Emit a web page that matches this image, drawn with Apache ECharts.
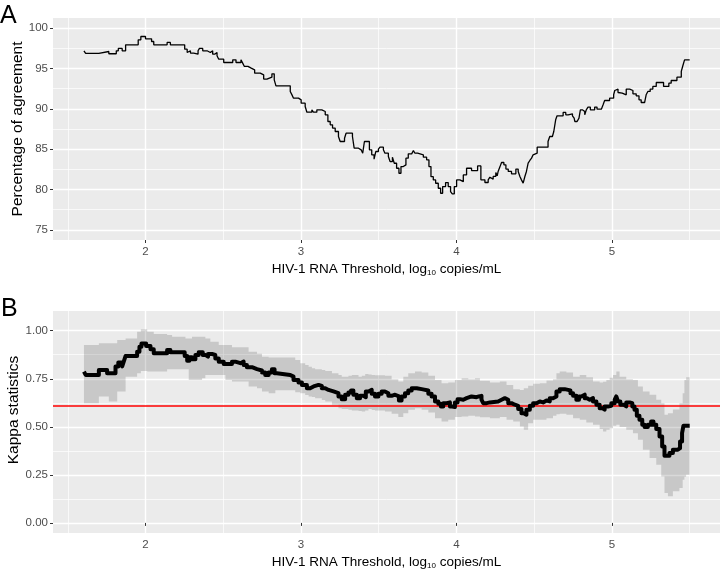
<!DOCTYPE html>
<html>
<head>
<meta charset="utf-8">
<script src="https://cdn.jsdelivr.net/npm/echarts@6/dist/echarts.min.js"></script>
<style>
  html, body { margin: 0; padding: 0; background: #fff; }
  #chart { width: 720px; height: 576px; }
</style>
</head>
<body>
<div id="chart"></div>
<script>
// panel A: percentage of agreement (step line)
var agreeX = [
  1.604, 1.615, 1.700, 1.764, 1.812, 1.825, 1.850, 1.872, 1.953, 1.970,
  2.000, 2.039, 2.053, 2.139, 2.160, 2.252, 2.268, 2.278, 2.289, 2.310,
  2.321, 2.338, 2.347, 2.368, 2.396, 2.417, 2.432, 2.445, 2.460, 2.471,
  2.503, 2.561, 2.582, 2.614, 2.625, 2.636, 2.659, 2.680, 2.702, 2.738,
  2.760, 2.781, 2.813, 2.828, 2.839, 2.931, 2.942, 2.952, 2.984, 3.001,
  3.027, 3.038, 3.070, 3.080, 3.102, 3.134, 3.156, 3.173, 3.188, 3.203,
  3.220, 3.241, 3.252, 3.280, 3.290, 3.331, 3.342, 3.370, 3.387, 3.397,
  3.408, 3.440, 3.455, 3.470, 3.481, 3.498, 3.508, 3.530, 3.540, 3.562,
  3.573, 3.588, 3.600, 3.615, 3.630, 3.643, 3.658, 3.675, 3.690, 3.712,
  3.723, 3.733, 3.750, 3.787, 3.808, 3.823, 3.836, 3.851, 3.866, 3.883,
  3.898, 3.911, 3.930, 3.947, 3.962, 3.973, 3.986, 4.001, 4.022, 4.044,
  4.065, 4.097, 4.136, 4.157, 4.183, 4.204, 4.215, 4.226, 4.236, 4.253,
  4.262, 4.268, 4.279, 4.290, 4.305, 4.318, 4.333, 4.354, 4.382, 4.397,
  4.408, 4.418, 4.429, 4.440, 4.450, 4.461, 4.472, 4.483, 4.493, 4.504,
  4.519, 4.589, 4.600, 4.617, 4.626, 4.638, 4.647, 4.686, 4.703, 4.718,
  4.729, 4.746, 4.757, 4.761, 4.776, 4.788, 4.797, 4.810, 4.825, 4.835,
  4.846, 4.861, 4.889, 4.904, 4.932, 4.943, 4.953, 4.985, 5.011, 5.018,
  5.028, 5.039, 5.049, 5.066, 5.092, 5.114, 5.135, 5.156, 5.174, 5.188,
  5.210, 5.220, 5.231, 5.246, 5.263, 5.285, 5.332, 5.366, 5.381, 5.418,
  5.446, 5.456, 5.467, 5.500
]
var agreement = [
  97.19, 96.86, 97.10, 96.82, 97.19, 97.48, 97.19, 97.93, 98.55, 98.96,
  98.67, 98.34, 97.93, 98.22, 97.93, 97.39, 96.98, 97.19, 96.90, 96.98,
  96.77, 97.19, 97.48, 97.19, 96.98, 97.19, 96.77, 96.98, 96.57, 96.15,
  95.74, 96.07, 95.74, 96.07, 95.66, 95.25, 95.04, 94.83, 94.42, 94.21,
  93.68, 93.92, 94.34, 93.59, 92.85, 92.15, 91.73, 91.32, 91.11, 90.70,
  90.28, 89.58, 89.87, 89.58, 89.87, 89.67, 89.26, 88.43, 88.02, 87.61,
  87.19, 86.57, 85.95, 86.36, 86.98, 86.57, 85.12, 84.92, 85.12, 84.50,
  85.95, 84.92, 84.30, 83.76, 84.71, 85.00, 85.25, 84.92, 84.50, 84.09,
  83.47, 84.01, 83.26, 82.64, 82.02, 82.85, 83.05, 83.88, 84.42, 84.58,
  84.83, 84.50, 84.30, 84.01, 83.68, 82.85, 81.60, 81.19, 80.78, 80.16,
  79.54, 80.37, 80.86, 80.37, 79.75, 79.46, 80.37, 81.19, 80.98, 81.81,
  82.64, 82.35, 82.93, 81.20, 80.87, 81.20, 81.53, 81.29, 81.62, 82.11,
  81.70, 82.24, 82.78, 83.35, 83.06, 82.53, 82.24, 81.95, 82.53, 82.24,
  81.62, 81.20, 80.79, 81.62, 82.24, 83.27, 83.60, 83.89, 84.30, 84.51,
  85.25, 85.95, 86.57, 86.78, 87.19, 88.64, 89.13, 89.55, 89.26, 89.46,
  89.38, 89.13, 88.84, 88.43, 88.55, 88.84, 89.88, 89.67, 89.26, 89.88,
  90.21, 89.88, 90.21, 89.96, 89.88, 90.50, 91.03, 91.32, 91.74, 92.27,
  92.44, 92.02, 91.94, 91.74, 92.44, 92.27, 91.86, 91.61, 91.12, 90.78,
  90.70, 91.74, 92.15, 92.44, 92.77, 93.26, 92.77, 93.18, 93.51, 93.92,
  94.63, 95.33, 96.07, 96.07
]

// panel B: kappa statistic (step line) with its confidence band
var kappaX = [
  1.604, 1.615, 1.700, 1.753, 1.807, 1.825, 1.850, 1.860, 1.872, 1.946,
  1.961, 1.974, 2.004, 2.032, 2.053, 2.139, 2.160, 2.252, 2.268, 2.282,
  2.299, 2.321, 2.342, 2.368, 2.385, 2.402, 2.428, 2.449, 2.471, 2.503,
  2.556, 2.578, 2.610, 2.631, 2.652, 2.685, 2.717, 2.749, 2.770, 2.792,
  2.813, 2.830, 2.845, 2.931, 2.952, 2.984, 3.006, 3.038, 3.059, 3.081,
  3.113, 3.134, 3.156, 3.177, 3.209, 3.241, 3.262, 3.284, 3.305, 3.322,
  3.337, 3.359, 3.380, 3.402, 3.417, 3.434, 3.455, 3.476, 3.498, 3.519,
  3.540, 3.562, 3.583, 3.605, 3.630, 3.647, 3.669, 3.690, 3.712, 3.744,
  3.776, 3.819, 3.840, 3.862, 3.883, 3.900, 3.915, 3.937, 3.958, 3.973,
  3.990, 4.007, 4.022, 4.044, 4.065, 4.097, 4.129, 4.144, 4.161, 4.172,
  4.194, 4.215, 4.268, 4.290, 4.311, 4.333, 4.354, 4.376, 4.397, 4.418,
  4.433, 4.450, 4.472, 4.493, 4.515, 4.536, 4.557, 4.579, 4.600, 4.621,
  4.643, 4.664, 4.696, 4.718, 4.733, 4.750, 4.771, 4.788, 4.803, 4.825,
  4.840, 4.857, 4.878, 4.900, 4.921, 4.938, 4.953, 4.975, 4.996, 5.018,
  5.028, 5.039, 5.054, 5.075, 5.092, 5.114, 5.131, 5.145, 5.160, 5.177,
  5.195, 5.210, 5.231, 5.252, 5.267, 5.285, 5.306, 5.323, 5.338, 5.370,
  5.392, 5.424, 5.438, 5.451, 5.460, 5.500
]
var kappa = [
  0.787, 0.770, 0.796, 0.779, 0.814, 0.834, 0.814, 0.839, 0.869, 0.891,
  0.917, 0.934, 0.921, 0.903, 0.883, 0.900, 0.888, 0.869, 0.844, 0.862,
  0.851, 0.874, 0.888, 0.874, 0.865, 0.879, 0.874, 0.856, 0.839, 0.827,
  0.839, 0.831, 0.839, 0.822, 0.810, 0.800, 0.793, 0.782, 0.770, 0.782,
  0.800, 0.779, 0.770, 0.761, 0.744, 0.730, 0.718, 0.701, 0.710, 0.718,
  0.713, 0.701, 0.692, 0.684, 0.675, 0.658, 0.644, 0.667, 0.678, 0.689,
  0.667, 0.649, 0.661, 0.654, 0.684, 0.692, 0.672, 0.658, 0.672, 0.684,
  0.675, 0.661, 0.667, 0.658, 0.637, 0.658, 0.675, 0.689, 0.701, 0.696,
  0.689, 0.672, 0.658, 0.632, 0.620, 0.606, 0.623, 0.627, 0.606, 0.603,
  0.627, 0.644, 0.641, 0.649, 0.658, 0.654, 0.658, 0.661, 0.641, 0.623,
  0.627, 0.632, 0.641, 0.649, 0.641, 0.623, 0.615, 0.609, 0.592, 0.571,
  0.563, 0.589, 0.609, 0.623, 0.632, 0.627, 0.637, 0.632, 0.649, 0.658,
  0.684, 0.696, 0.692, 0.689, 0.675, 0.661, 0.641, 0.658, 0.667, 0.649,
  0.641, 0.649, 0.632, 0.615, 0.597, 0.589, 0.606, 0.609, 0.623, 0.641,
  0.658, 0.632, 0.615, 0.606, 0.627, 0.623, 0.606, 0.589, 0.558, 0.537,
  0.511, 0.499, 0.511, 0.528, 0.511, 0.488, 0.450, 0.398, 0.350, 0.364,
  0.381, 0.389, 0.424, 0.467, 0.506, 0.506
]
var bandX = [
  1.604, 1.700, 1.764, 1.818, 1.872, 1.946, 1.970, 2.011, 2.053, 2.139,
  2.171, 2.257, 2.278, 2.299, 2.364, 2.385, 2.417, 2.471, 2.514, 2.556,
  2.663, 2.717, 2.749, 2.792, 2.835, 2.899, 2.963, 2.995, 3.027, 3.049,
  3.070, 3.091, 3.134, 3.156, 3.199, 3.241, 3.262, 3.305, 3.327, 3.370,
  3.391, 3.413, 3.434, 3.455, 3.476, 3.540, 3.583, 3.626, 3.658, 3.690,
  3.733, 3.776, 3.819, 3.862, 3.904, 3.947, 3.990, 4.033, 4.076, 4.119,
  4.151, 4.215, 4.279, 4.322, 4.365, 4.408, 4.433, 4.461, 4.493, 4.536,
  4.579, 4.621, 4.643, 4.664, 4.707, 4.750, 4.793, 4.835, 4.878, 4.921,
  4.943, 4.964, 4.985, 5.007, 5.028, 5.049, 5.092, 5.135, 5.167, 5.199,
  5.242, 5.285, 5.317, 5.338, 5.360, 5.392, 5.434, 5.455, 5.466, 5.477,
  5.500
]
var bandLo = [
  0.623, 0.658, 0.632, 0.684, 0.760, 0.779, 0.790, 0.788, 0.788, 0.800,
  0.800, 0.800, 0.744, 0.744, 0.753, 0.770, 0.770, 0.770, 0.744, 0.736,
  0.710, 0.701, 0.684, 0.675, 0.690, 0.690, 0.680, 0.675, 0.665, 0.658,
  0.655, 0.649, 0.640, 0.632, 0.615, 0.597, 0.593, 0.589, 0.585, 0.582,
  0.580, 0.585, 0.592, 0.588, 0.585, 0.580, 0.568, 0.551, 0.571, 0.589,
  0.597, 0.589, 0.575, 0.545, 0.528, 0.537, 0.551, 0.554, 0.558, 0.554,
  0.550, 0.545, 0.551, 0.537, 0.528, 0.502, 0.485, 0.519, 0.537, 0.537,
  0.545, 0.558, 0.565, 0.568, 0.563, 0.545, 0.537, 0.523, 0.511, 0.488,
  0.476, 0.485, 0.493, 0.505, 0.511, 0.499, 0.485, 0.467, 0.433, 0.381,
  0.338, 0.303, 0.242, 0.156, 0.139, 0.165, 0.182, 0.225, 0.240, 0.251,
  0.251
]
var bandHi = [
  0.926, 0.935, 0.935, 0.952, 0.960, 0.995, 1.007, 0.995, 0.983, 0.978,
  0.969, 0.960, 0.960, 0.969, 0.969, 0.960, 0.943, 0.926, 0.926, 0.914,
  0.891, 0.880, 0.865, 0.860, 0.860, 0.860, 0.848, 0.831, 0.822, 0.813,
  0.805, 0.800, 0.796, 0.790, 0.779, 0.770, 0.761, 0.765, 0.770, 0.761,
  0.765, 0.775, 0.772, 0.770, 0.768, 0.765, 0.747, 0.736, 0.761, 0.779,
  0.788, 0.782, 0.765, 0.744, 0.727, 0.730, 0.744, 0.753, 0.747, 0.753,
  0.740, 0.730, 0.736, 0.718, 0.696, 0.692, 0.700, 0.713, 0.724, 0.727,
  0.741, 0.747, 0.779, 0.788, 0.782, 0.761, 0.770, 0.758, 0.736, 0.730,
  0.735, 0.744, 0.755, 0.770, 0.788, 0.761, 0.747, 0.744, 0.710, 0.684,
  0.667, 0.641, 0.623, 0.563, 0.570, 0.590, 0.623, 0.675, 0.744, 0.758,
  0.758
]
var kappaRef = 0.61

// tick values
var xTicks = [2, 3, 4, 5]
var xMinor = [1.5, 2.5, 3.5, 4.5, 5.5]
var agreeTicks = [75, 80, 85, 90, 95, 100]
var agreeMinor = [77.5, 82.5, 87.5, 92.5, 97.5]
var kappaTicks = [0, 0.25, 0.5, 0.75, 1]
var kappaMinor = [0.125, 0.375, 0.625, 0.875]

var FONT = "'Liberation Sans', Arial, Helvetica, sans-serif"
var xTitle = 'HIV-1 RNA Threshold, log{sub|10} copies/mL'

function zip(xs, ys) {
  var out = []
  for (var i = 0; i < xs.length; i++) {
    out.push([xs[i], ys[i]])
  }
  return out
}

function majorAxis(dim, gridIndex, min, max, ticks, fmt) {
  var ax = {
    type: 'value',
    gridIndex: gridIndex,
    min: min,
    max: max,
    axisLine: { show: false },
    axisTick: {
      show: true,
      length: 3,
      customValues: ticks,
      lineStyle: { color: '#333333', width: 1 },
    },
    axisLabel: {
      customValues: ticks,
      color: '#4d4d4d',
      fontSize: 11.5,
      fontFamily: FONT,
      margin: dim === 'x' ? 6 : 5,
      formatter: fmt,
    },
    splitLine: { show: true, lineStyle: { color: '#ffffff', width: 1.4 } },
  }
  if (dim === 'y') ax.position = 'left'
  return ax
}

function minorAxis(dim, gridIndex, min, max, ticks) {
  var ax = {
    type: 'value',
    gridIndex: gridIndex,
    min: min,
    max: max,
    axisLine: { show: false },
    axisTick: { show: false, customValues: ticks },
    axisLabel: { show: false },
    splitLine: { show: true, lineStyle: { color: '#ffffff', width: 0.7 } },
  }
  if (dim === 'y') ax.position = 'left'
  return ax
}

var xName = {
  name: xTitle,
  nameLocation: 'middle',
  nameGap: 22,
  nameTextStyle: {
    color: '#000',
    fontSize: 13.5,
    fontFamily: FONT,
    rich: {
      sub: { fontSize: 8, fontFamily: FONT, color: '#000', padding: [7, 0, 0, 0] },
    },
  },
}

var xA = majorAxis('x', 0, 1.405, 5.695, xTicks, function (v) { return String(v) })
Object.assign(xA, xName)
var xB = majorAxis('x', 1, 1.405, 5.695, xTicks, function (v) { return String(v) })
Object.assign(xB, xName)

// ribbon polygon (step shaped) built through the axes' coord mapping
function renderBand(params, api) {
  if (params.dataIndex !== 0) return null
  var upper = []
  var lower = []
  for (var i = 0; i < bandX.length; i++) {
    var xNext = i < bandX.length - 1 ? bandX[i + 1] : bandX[i]
    upper.push(api.coord([bandX[i], bandHi[i]]))
    upper.push(api.coord([xNext, bandHi[i]]))
    lower.push(api.coord([bandX[i], bandLo[i]]))
    lower.push(api.coord([xNext, bandLo[i]]))
  }
  var pts = upper.concat(lower.reverse())
  return {
    type: 'polygon',
    shape: { points: pts },
    style: { fill: 'rgba(0,0,0,0.15)', stroke: null },
  }
}

var chart = echarts.init(document.getElementById('chart'), null, { renderer: 'canvas' })

chart.setOption({
  animation: false,
  backgroundColor: '#ffffff',
  textStyle: { fontFamily: FONT },
  grid: [
    { left: 53, right: 0, top: 18, height: 222, show: true, backgroundColor: '#ebebeb', borderWidth: 0, outerBoundsMode: 'none' },
    { left: 53, right: 0, top: 311, height: 222, show: true, backgroundColor: '#ebebeb', borderWidth: 0, outerBoundsMode: 'none' },
  ],
  xAxis: [
    xA,
    minorAxis('x', 0, 1.405, 5.695, xMinor),
    xB,
    minorAxis('x', 1, 1.405, 5.695, xMinor),
  ],
  yAxis: [
    majorAxis('y', 0, 73.75, 101.25, agreeTicks, function (v) { return String(v) }),
    minorAxis('y', 0, 73.75, 101.25, agreeMinor),
    majorAxis('y', 1, -0.0525, 1.1025, kappaTicks, function (v) { return v.toFixed(2) }),
    minorAxis('y', 1, -0.0525, 1.1025, kappaMinor),
  ],
  graphic: [
    { type: 'text', left: 0, top: 4, style: { text: 'A', fontSize: 25, fontFamily: FONT, fill: '#000' } },
    { type: 'text', left: 1, top: 297, style: { text: 'B', fontSize: 25, fontFamily: FONT, fill: '#000' } },
    {
      type: 'text', x: 18, y: 129, rotation: Math.PI / 2,
      style: { text: 'Percentage of agreement', fontSize: 15.5, fontFamily: FONT, fill: '#000', align: 'center', verticalAlign: 'middle' },
    },
    {
      type: 'text', x: 14, y: 410, rotation: Math.PI / 2,
      style: { text: 'Kappa statistics', fontSize: 15.5, fontFamily: FONT, fill: '#000', align: 'center', verticalAlign: 'middle' },
    },
  ],
  series: [
    {
      name: 'agreement',
      type: 'line',
      xAxisIndex: 0,
      yAxisIndex: 0,
      step: 'end',
      showSymbol: false,
      symbol: 'none',
      lineStyle: { color: '#000000', width: 1.3 },
      data: zip(agreeX, agreement),
      z: 10,
    },
    {
      name: 'band',
      type: 'custom',
      xAxisIndex: 2,
      yAxisIndex: 2,
      renderItem: renderBand,
      clip: true,
      silent: true,
      encode: { x: 0, y: [1, 2] },
      data: bandX.map(function (x, i) { return [x, bandLo[i], bandHi[i]] }),
      z: 3,
    },
    {
      name: 'reference',
      type: 'line',
      xAxisIndex: 2,
      yAxisIndex: 2,
      symbol: 'none',
      data: [],
      z: 4,
      markLine: {
        silent: true,
        symbol: 'none',
        z: 5,
        label: { show: false },
        lineStyle: { color: '#ff0000', width: 1.5, type: 'solid' },
        data: [{ yAxis: kappaRef }],
      },
    },
    {
      name: 'kappa',
      type: 'line',
      xAxisIndex: 2,
      yAxisIndex: 2,
      step: 'end',
      symbol: 'none',
      lineStyle: { color: '#000000', width: 4, join: 'round' },
      data: zip(kappaX, kappa),
      z: 10,
    },
  ],
})
</script>
</body>
</html>
